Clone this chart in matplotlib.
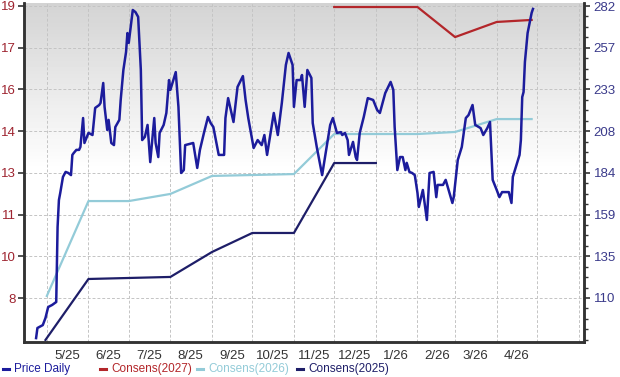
import numpy as np
import pandas as pd
import matplotlib
matplotlib.use("Agg")
import matplotlib.pyplot as plt
import matplotlib.dates as mdates
from matplotlib.lines import Line2D
from matplotlib.ticker import FixedLocator, NullFormatter, AutoMinorLocator

# ---------------- data ----------------
base = pd.Timestamp("2025-05-01")

# price: day offset from 2025-05-01, close
price_day = [-8, -7, -3, -1, 1, 4, 7, 8, 9, 10, 12, 14, 16, 18, 19, 20, 22, 24, 25, 27,
             28, 31, 34, 36, 39, 40, 42, 43, 45, 46, 48, 50, 51, 54, 55, 57, 59, 60, 61, 62,
             64, 66, 68, 70, 71, 73, 75, 77, 80, 81, 83, 84, 87, 89, 91, 92, 96, 98, 100, 102,
             103, 109, 112, 114, 117, 120, 122, 124, 128, 132, 133, 135, 139, 142, 146, 148, 150, 154, 157, 160,
             162, 164, 169, 172, 175, 178, 180, 183, 184, 186, 189, 190, 192, 194, 197, 198, 201, 205, 208, 211,
             213, 216, 219, 220, 222, 224, 225, 228, 230, 231, 233, 236, 239, 243, 246, 248, 252, 256, 258, 259,
             261, 263, 265, 267, 268, 270, 272, 274, 276, 277, 280, 281, 283, 285, 288, 290, 291, 295, 297, 302,
             303, 306, 309, 312, 314, 317, 319, 323, 325, 328, 330, 332, 335, 337, 339, 344, 346, 347, 352, 353,
             354, 355, 356, 358, 361, 362]
price_val = [6.49, 6.87, 6.98, 7.25, 7.66, 7.74, 7.85, 10.67, 11.69, 11.96, 12.56, 12.75, 12.71, 12.63, 13.39, 13.46, 13.58, 13.58, 13.69, 14.78,
             13.84, 14.22, 14.14, 15.16, 15.27, 15.35, 16.10, 15.20, 14.33, 14.71, 13.84, 13.76, 14.44, 14.71, 15.46, 16.59, 17.27, 17.98, 17.61, 18.02,
             18.85, 18.77, 18.59, 16.59, 13.95, 14.07, 14.52, 13.12, 14.78, 13.84, 13.31, 14.22, 14.52, 14.97, 16.21, 15.84, 16.51, 15.20, 12.71, 12.82,
             13.76, 13.84, 12.90, 13.58, 14.22, 14.82, 14.59, 14.44, 13.39, 13.39, 14.78, 15.53, 14.63, 15.95, 16.36, 15.46, 14.78, 13.65, 13.95, 13.76,
             14.14, 13.39, 14.97, 14.14, 15.35, 16.78, 17.23, 16.78, 15.20, 16.21, 16.21, 16.40, 15.20, 16.59, 16.29, 14.59, 13.69, 12.63, 13.58, 14.52,
             14.78, 14.22, 14.25, 14.14, 14.22, 13.95, 13.39, 13.88, 13.31, 13.20, 14.22, 14.82, 15.53, 15.46, 15.08, 14.97, 15.72, 16.14, 15.84, 14.44,
             12.82, 13.31, 13.31, 12.82, 13.09, 12.75, 12.71, 12.63, 11.96, 11.43, 12.07, 11.69, 10.94, 12.71, 12.75, 11.80, 12.26, 12.26, 12.45, 11.58,
             11.80, 13.20, 13.69, 14.78, 14.89, 15.27, 14.52, 14.40, 14.14, 14.40, 14.63, 12.45, 12.07, 11.80, 11.99, 11.99, 11.58, 12.56, 13.39, 13.95,
             15.57, 15.76, 16.89, 17.98, 18.74, 18.89]

# consensus estimates (right axis)
cons27_dates = ["2025-12-01", "2026-02-01", "2026-03-01", "2026-04-01", "2026-04-27"]
cons27_vals = [281.4, 281.4, 263.7, 272.6, 273.8]

cons26_dates = ["2025-05-01", "2025-06-01", "2025-07-01", "2025-08-01", "2025-09-01", "2025-11-01",
                "2025-12-01", "2026-02-01", "2026-03-01", "2026-04-01", "2026-04-27"]
cons26_vals = [111.2, 167.1, 167.1, 171.3, 181.9, 183.0, 206.6, 206.6, 207.8, 215.4, 215.4]

cons25_dates = ["2025-04-30", "2025-06-01", "2025-08-01", "2025-09-01", "2025-10-01", "2025-11-01",
                "2025-12-01", "2026-01-01"]
cons25_vals = [85.3, 121.2, 122.4, 137.1, 148.3, 148.3, 189.5, 189.5]

month_labels = ["5/25", "6/25", "7/25", "8/25", "9/25", "10/25", "11/25", "12/25",
                "1/26", "2/26", "3/26", "4/26"]

left_ticks = np.linspace(8, 19, 8)
right_ticks = np.linspace(110, 282, 8)

# ---------------- styling ----------------
c_price = "#1c1c9c"
c_27 = "#b3262a"
c_26 = "#93cbd8"
c_25 = "#1e1e68"
c_left_lab = "#9e2430"
c_right_lab = "#3a3a8a"

plt.rcParams["font.family"] = ["Liberation Sans", "DejaVu Sans"]

fig = plt.figure(figsize=(6.2, 3.77), dpi=100)
W, H = 620.0, 377.0
ax2 = fig.add_axes([24 / W, 1 - 342 / H, 560 / W, 339 / H])
ax = ax2.twinx()
ax.yaxis.tick_left()
ax2.yaxis.tick_right()
ax.set_zorder(ax2.get_zorder() + 1)
ax.patch.set_visible(False)

# background gradient
grad = np.concatenate([np.ones(50), np.linspace(1.0, 0.83, 50)]).reshape(-1, 1)
ax2.imshow(grad, cmap="gray", vmin=0, vmax=1, extent=(0, 1, 0, 1),
           transform=ax2.transAxes, aspect="auto", origin="lower", zorder=0)

# lines
price_dates = base + pd.to_timedelta(price_day, unit="D")
ax.plot(price_dates, price_val, color=c_price, lw=1.8, zorder=5)
ax2.plot(pd.to_datetime(cons26_dates), cons26_vals, color=c_26, lw=1.6, zorder=3)
ax2.plot(pd.to_datetime(cons25_dates), cons25_vals, color=c_25, lw=1.6, zorder=3)
ax2.plot(pd.to_datetime(cons27_dates), cons27_vals, color=c_27, lw=1.6, zorder=3)

# limits
xlo, xhi = pd.Timestamp("2025-04-14"), pd.Timestamp("2026-06-05")
ax2.set_xlim(xlo, xhi)
ax.set_ylim(6.343, 19.113)
ax2.set_ylim(84.08, 283.77)

# x ticks: month starts -> gridlines, mid-month -> labels
ax2.xaxis.set_major_locator(mdates.MonthLocator())
ax2.xaxis.set_major_formatter(NullFormatter())
label_pos = [mdates.date2num(pd.Timestamp("2025-05-16") + pd.DateOffset(months=i))
             for i in range(len(month_labels))]
ax2.xaxis.set_minor_locator(FixedLocator(label_pos))
ax2.set_xticks(label_pos, month_labels, minor=True)
ax2.tick_params(axis="x", which="both", length=0, labelsize=9.5, colors="#333333", pad=6)

# y ticks
ax.set_yticks(left_ticks, [f"{v:.0f}" for v in left_ticks])
ax.tick_params(axis="y", labelsize=9.5, labelcolor=c_left_lab, color="#333333",
               length=4, width=1.2, pad=2)
ax2.set_yticks(right_ticks, [f"{v:.0f}" for v in right_ticks])
ax2.yaxis.set_minor_locator(AutoMinorLocator(4))
ax2.tick_params(axis="y", which="major", labelsize=9.5, labelcolor=c_right_lab,
                color="#333333", length=4, width=1.2, pad=3)
ax2.tick_params(axis="y", which="minor", color="#333333", length=3, width=1.0)

# grid
ax2.grid(axis="both", which="major", color="#c4c4c4", ls=(0, (3, 2)), lw=0.7, zorder=1)

for a in (ax, ax2):
    a.spines["top"].set_visible(False)
    for s in ("left", "right", "bottom"):
        a.spines[s].set_color("#333333")
        a.spines[s].set_linewidth(1.8)

# legend (fixed-width entries)
entries = [("Price Daily", c_price, 3), ("Consens(2027)", c_27, 100),
           ("Consens(2026)", c_26, 197), ("Consens(2025)", c_25, 297)]
ly = 1 - 369 / H
for lab, col, x0 in entries:
    fig.add_artist(Line2D([x0 / W, (x0 + 6) / W], [ly, ly], color=col, lw=2.2,
                          transform=fig.transFigure))
    fig.text((x0 + 11) / W, ly, lab, color=col, fontsize=8.5, va="center", ha="left")

fig.savefig("out.png", dpi=100)
